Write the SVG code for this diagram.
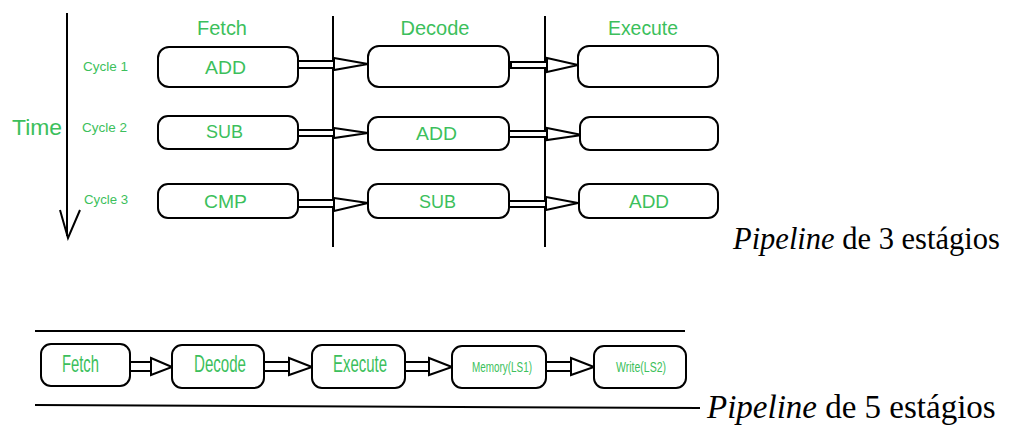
<svg xmlns="http://www.w3.org/2000/svg" width="1013" height="425" viewBox="0 0 1013 425">
<style>
.box{fill:#fff;stroke:#000;stroke-width:2}
.lbl{font-family:"Liberation Sans",Arial,sans-serif;fill:#3cbf5c;text-anchor:middle}
.ln{stroke:#000;stroke-width:2;fill:none}
.arr{fill:#fff;stroke:#000;stroke-width:2;stroke-linejoin:miter}
.cap{font-family:"Liberation Serif","Times New Roman",serif;fill:#000}
</style>
<rect width="1013" height="425" fill="#fff"/>

<!-- axes / separators -->
<g id="time-axis">
<line class="ln" x1="67" y1="13" x2="67" y2="236"/>
<polyline class="ln" points="60,210 68,238 80,210"/>
<text class="lbl" x="37" y="135" font-size="22" textLength="50" lengthAdjust="spacingAndGlyphs">Time</text>
<text class="lbl" x="105.5" y="71" font-size="13.5" textLength="45" lengthAdjust="spacingAndGlyphs">Cycle 1</text>
<text class="lbl" x="104.5" y="132" font-size="13.5" textLength="45" lengthAdjust="spacingAndGlyphs">Cycle 2</text>
<text class="lbl" x="106" y="204" font-size="13.5" textLength="44" lengthAdjust="spacingAndGlyphs">Cycle 3</text>
</g>
<g id="separators">
<line class="ln" x1="333" y1="16" x2="333" y2="247"/>
<line class="ln" x1="545" y1="16" x2="545" y2="247"/>
</g>
<g id="headers">
<text class="lbl" x="222" y="35" font-size="20" textLength="50" lengthAdjust="spacingAndGlyphs">Fetch</text>
<text class="lbl" x="435" y="35" font-size="20" textLength="69" lengthAdjust="spacingAndGlyphs">Decode</text>
<text class="lbl" x="643" y="35" font-size="20" textLength="70" lengthAdjust="spacingAndGlyphs">Execute</text>
</g>

<!-- connectors -->
<g id="connectors">
<rect class="arr" x="298" y="61" width="36" height="7"/>
<polygon class="arr" points="334,58 368,64 334,70"/>
<rect class="arr" x="511" y="62" width="36" height="6"/>
<polygon class="arr" points="547,58 578,65 547,72"/>
<rect class="arr" x="298" y="130" width="36" height="6"/>
<polygon class="arr" points="334,128 368,133 334,138"/>
<rect class="arr" x="509" y="131" width="38" height="6"/>
<polygon class="arr" points="547,128 582,135 547,140"/>
<rect class="arr" x="298" y="200" width="36" height="7"/>
<polygon class="arr" points="334,198 368,203 334,211"/>
<rect class="arr" x="509" y="201" width="37" height="6"/>
<polygon class="arr" points="546,197 578,203 546,210"/>

<rect class="arr" x="130" y="362" width="21" height="9"/>
<polygon class="arr" points="151,358 172,367 151,375"/>
<rect class="arr" x="264" y="362" width="25" height="9"/>
<polygon class="arr" points="289,358 312,367 289,375"/>
<rect class="arr" x="405" y="362" width="24" height="9"/>
<polygon class="arr" points="429,358 452,367 429,375"/>
<rect class="arr" x="546" y="362" width="25" height="9"/>
<polygon class="arr" points="571,358 594,367 571,375"/>
</g>

<!-- 3-stage nodes -->
<g id="f1"><rect class="box" x="158" y="47" width="140" height="40" rx="11"/><text class="lbl" x="225.5" y="74" font-size="19" textLength="41" lengthAdjust="spacingAndGlyphs">ADD</text></g>
<g id="d1"><rect class="box" x="368" y="46" width="141" height="41" rx="11"/></g>
<g id="e1"><rect class="box" x="578" y="46" width="140" height="41" rx="11"/></g>
<g id="f2"><rect class="box" x="158" y="116" width="140" height="33" rx="10"/><text class="lbl" x="224.5" y="138" font-size="19" textLength="37" lengthAdjust="spacingAndGlyphs">SUB</text></g>
<g id="d2"><rect class="box" x="368" y="117" width="141" height="33" rx="10"/><text class="lbl" x="436.5" y="140" font-size="19" textLength="41" lengthAdjust="spacingAndGlyphs">ADD</text></g>
<g id="e2"><rect class="box" x="580" y="117" width="138" height="33" rx="10"/></g>
<g id="f3"><rect class="box" x="158" y="184" width="140" height="34" rx="10"/><text class="lbl" x="225.5" y="208" font-size="19" textLength="43" lengthAdjust="spacingAndGlyphs">CMP</text></g>
<g id="d3"><rect class="box" x="368" y="184" width="141" height="34" rx="10"/><text class="lbl" x="437.5" y="208" font-size="19" textLength="37" lengthAdjust="spacingAndGlyphs">SUB</text></g>
<g id="e3"><rect class="box" x="579" y="184" width="139" height="34" rx="10"/><text class="lbl" x="649" y="208" font-size="19" textLength="40" lengthAdjust="spacingAndGlyphs">ADD</text></g>

<text class="cap" x="733" y="249" font-size="30.5"><tspan font-style="italic">Pipeline</tspan> de 3 estágios</text>

<!-- 5-stage -->
<g id="bounds">
<line class="ln" x1="35" y1="331" x2="685" y2="331"/>
<line class="ln" x1="35" y1="405" x2="700" y2="408"/>
</g>
<g id="s1"><rect class="box" x="41" y="344" width="89" height="42" rx="10"/><text class="lbl" x="80.5" y="372" font-size="24" textLength="37" lengthAdjust="spacingAndGlyphs">Fetch</text></g>
<g id="s2"><rect class="box" x="172" y="345" width="92" height="43" rx="10"/><text class="lbl" x="220" y="372" font-size="24" textLength="52" lengthAdjust="spacingAndGlyphs">Decode</text></g>
<g id="s3"><rect class="box" x="312" y="345" width="93" height="43" rx="10"/><text class="lbl" x="360" y="372" font-size="24" textLength="54" lengthAdjust="spacingAndGlyphs">Execute</text></g>
<g id="s4"><rect class="box" x="452" y="346" width="94" height="42" rx="10"/><text class="lbl" x="502" y="372" font-size="14" textLength="60" lengthAdjust="spacingAndGlyphs">Memory(LS1)</text></g>
<g id="s5"><rect class="box" x="594" y="346" width="92" height="42" rx="10"/><text class="lbl" x="641" y="372" font-size="14" textLength="50" lengthAdjust="spacingAndGlyphs">Write(LS2)</text></g>

<text class="cap" x="707" y="418" font-size="33"><tspan font-style="italic">Pipeline</tspan> de 5 estágios</text>
</svg>
